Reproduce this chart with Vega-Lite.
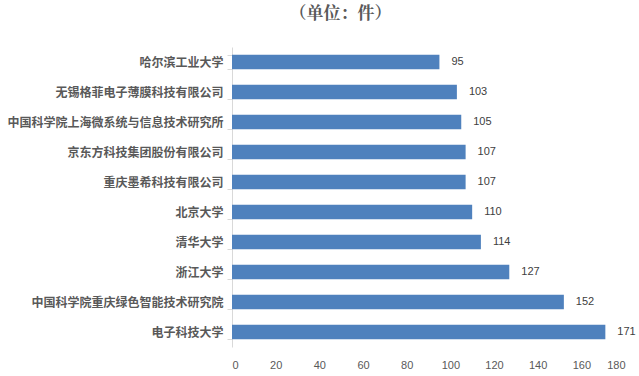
{
  "$schema": "https://vega.github.io/schema/vega-lite/v6.json",
  "autosize": "none",
  "width": 393,
  "height": 300,
  "padding": {"left": 232, "top": 47, "right": 14, "bottom": 29},
  "background": "white",
  "title": {
    "text": "（单位：件）",
    "anchor": "middle",
    "frame": "group",
    "dx": -88,
    "offset": 18,
    "font": "Noto Serif CJK SC, Noto Sans CJK SC",
    "fontSize": 17,
    "fontWeight": "bold",
    "color": "#595959"
  },
  "data": {
    "values": [
      {"org": "哈尔滨工业大学", "count": 95},
      {"org": "无锡格菲电子薄膜科技有限公司", "count": 103},
      {"org": "中国科学院上海微系统与信息技术研究所", "count": 105},
      {"org": "京东方科技集团股份有限公司", "count": 107},
      {"org": "重庆墨希科技有限公司", "count": 107},
      {"org": "北京大学", "count": 110},
      {"org": "清华大学", "count": 114},
      {"org": "浙江大学", "count": 127},
      {"org": "中国科学院重庆绿色智能技术研究院", "count": 152},
      {"org": "电子科技大学", "count": 171}
    ]
  },
  "encoding": {
    "y": {
      "field": "org",
      "type": "nominal",
      "sort": null,
      "scale": {"paddingInner": 0.52, "paddingOuter": 0.26},
      "axis": {
        "title": null,
        "domainColor": "#d9d9d9",
        "tickColor": "#d9d9d9",
        "tickSize": 5,
        "tickBand": "extent",
        "labelFont": "Noto Sans CJK SC",
        "labelFontSize": 12,
        "labelFontWeight": "bold",
        "labelColor": "#595959",
        "labelPadding": 4,
        "labelLimit": 0
      }
    },
    "x": {
      "field": "count",
      "type": "quantitative",
      "scale": {"domain": [0, 180]},
      "axis": {
        "title": null,
        "values": [0, 20, 40, 60, 80, 100, 120, 140, 160, 180],
        "grid": false,
        "domain": false,
        "ticks": false,
        "labelFont": "Liberation Sans",
        "labelFontSize": 11,
        "labelColor": "#595959",
        "labelPadding": 12
      }
    }
  },
  "layer": [
    {"mark": {"type": "bar", "color": "#4F81BD"}},
    {
      "mark": {"type": "text", "align": "left", "dx": 12, "font": "Liberation Sans", "fontSize": 11, "color": "#404040"},
      "encoding": {"text": {"field": "count", "type": "quantitative"}}
    }
  ],
  "config": {"view": {"stroke": null}}
}
